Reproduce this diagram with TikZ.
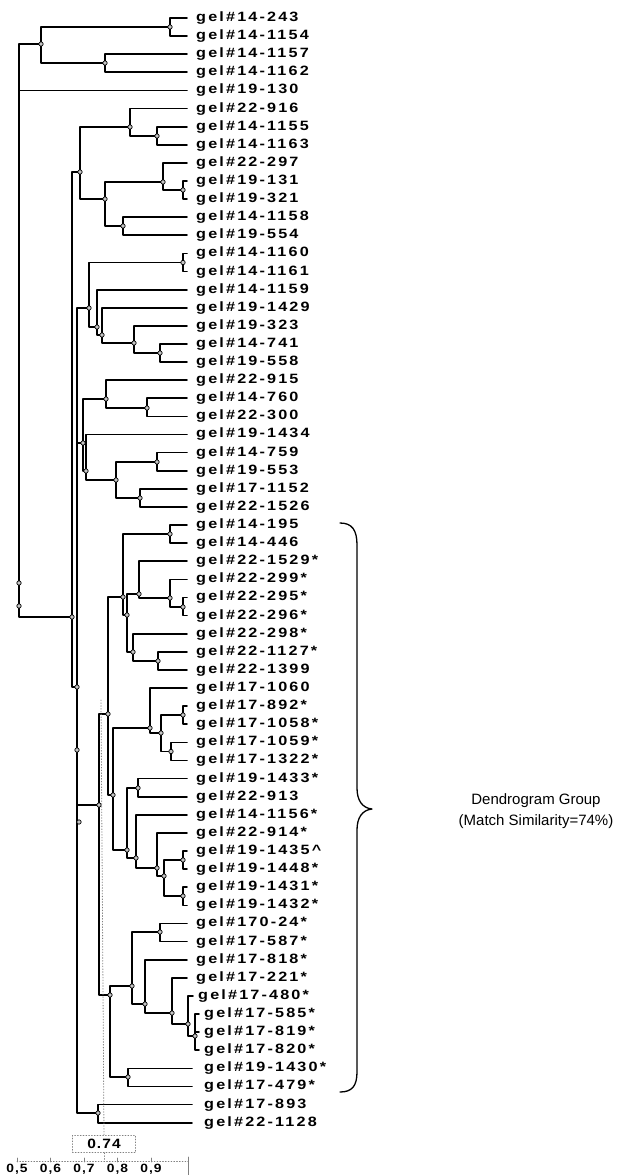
\documentclass[tikz,border=0pt]{standalone}
\usepackage{fontspec}
\setmainfont{Liberation Sans}
\newfontfamily\gelfont[LetterSpace=16,FakeStretch=1.2]{Liberation Sans}
\newfontfamily\scalefont[LetterSpace=8,FakeStretch=1.15]{Liberation Sans}
\begin{document}
\begin{tikzpicture}[x=1pt,y=-1pt,line join=round,line cap=round,
	br/.style={line width=1.7pt,black},
	dot/.style={fill=gray!45,draw=black,line width=0.7pt},
	lab/.style={anchor=west,inner sep=0pt,font=\gelfont\fontsize{13.5}{15}\bfseries\selectfont},
	cutline/.style={gray,dotted,line width=0.8pt}]
\useasboundingbox (0,0) rectangle (634,1175);

% leaves
\foreach \txt [count=\i] in {gel\#14-243,gel\#14-1154,gel\#14-1157,gel\#14-1162,gel\#19-130,gel\#22-916,gel\#14-1155,gel\#14-1163,gel\#22-297,gel\#19-131,gel\#19-321,gel\#14-1158,gel\#19-554,gel\#14-1160,gel\#14-1161,gel\#14-1159,gel\#19-1429,gel\#19-323,gel\#14-741,gel\#19-558,gel\#22-915,gel\#14-760,gel\#22-300,gel\#19-1434,gel\#14-759,gel\#19-553,gel\#17-1152,gel\#22-1526,gel\#14-195,gel\#14-446,gel\#22-1529*,gel\#22-299*,gel\#22-295*,gel\#22-296*,gel\#22-298*,gel\#22-1127*,gel\#22-1399,gel\#17-1060,gel\#17-892*,gel\#17-1058*,gel\#17-1059*,gel\#17-1322*,gel\#19-1433*,gel\#22-913,gel\#14-1156*,gel\#22-914*,gel\#19-1435\textasciicircum,gel\#19-1448*,gel\#19-1431*,gel\#19-1432*,gel\#170-24*,gel\#17-587*,gel\#17-818*,gel\#17-221*}{
	\coordinate (l\i) at (187,{18+18.11*(\i-1)});
	\node[lab] (t\i) at (196,{18+18.11*(\i-1)}) {\txt};
}
\coordinate (l55) at (193,{18+18.11*54});
\node[lab] (t55) at (198,{18+18.11*54}) {gel\#17-480*};
\foreach \txt [count=\i from 56] in {gel\#17-585*,gel\#17-819*,gel\#17-820*}{
	\coordinate (l\i) at (199,{18+18.11*(\i-1)});
	\node[lab] (t\i) at (204,{18+18.11*(\i-1)}) {\txt};
}
\foreach \txt [count=\i from 59] in {gel\#19-1430*,gel\#17-479*,gel\#17-893,gel\#22-1128}{
	\coordinate (l\i) at (192,{18+18.11*(\i-1)});
	\node[lab] (t\i) at (204,{18+18.11*(\i-1)}) {\txt};
}

% joins
\path (19,583)coordinate(r) (19,606)coordinate(rb) (41,44)coordinate(a0) (170,27)coordinate(a1) (105,63)coordinate(a2)
	(72,617)coordinate(s1) (77,687)coordinate(s2) (98,1113)coordinate(k)
	(80,172)coordinate(b7) (130,127)coordinate(b2) (157,136)coordinate(b1) (105,199)coordinate(b6) (163,182)coordinate(b4) (183,190)coordinate(b3) (123,226)coordinate(b5)
	(89,308)coordinate(c6) (183,262.5)coordinate(c1) (97,327)coordinate(c5) (102,335)coordinate(c4) (134,343)coordinate(c3) (160,353)coordinate(c2)
	(83,443)coordinate(d7) (106,399)coordinate(d2) (147,408)coordinate(d1) (86,471)coordinate(d6) (116,480)coordinate(d5) (157,462)coordinate(d3) (140,498)coordinate(d4)
	(99,805)coordinate(z) (108,714)coordinate(g9) (123,597)coordinate(e8) (170,534)coordinate(e1) (127,615)coordinate(e7) (139,594)coordinate(e4) (170,598)coordinate(e3) (183,607)coordinate(e2) (133,652)coordinate(e5) (158,661)coordinate(e6)
	(113,795)coordinate(g8) (150,728)coordinate(f4) (161,733)coordinate(f3) (183,715)coordinate(f1) (171,751.5)coordinate(f2)
	(127,850)coordinate(g7) (138,788)coordinate(g1) (136,858)coordinate(g6) (157,868)coordinate(g5) (164,876)coordinate(g4) (183,860)coordinate(g2) (183,896)coordinate(g3)
	(110,995)coordinate(h9) (132,986)coordinate(h7) (160,932)coordinate(h1) (145,1004)coordinate(h6) (172,1013)coordinate(h5) (188,1024)coordinate(h4) (195,1036)coordinate(h3) (128,1077)coordinate(h8);

\foreach \p/\c in {r/a0,r/rb,rb/l5,rb/s1,a0/a1,a0/a2,a1/l1,a1/l2,a2/l3,a2/l4,
	s1/b7,s1/s2,b7/b2,b7/b6,b2/l6,b2/b1,b1/l7,b1/l8,b6/b4,b6/b5,b4/l9,b4/b3,b3/l10,b3/l11,b5/l12,b5/l13,
	s2/c6,s2/d7,s2/z,s2/k,c6/c1,c6/c5,c1/l14,c1/l15,c5/l16,c5/c4,c4/l17,c4/c3,c3/l18,c3/c2,c2/l19,c2/l20,
	d7/d2,d7/d6,d2/l21,d2/d1,d1/l22,d1/l23,d6/l24,d6/d5,d5/d3,d5/d4,d3/l25,d3/l26,d4/l27,d4/l28,
	z/g9,z/h9,g9/e8,g9/g8,e8/e1,e8/e7,e1/l29,e1/l30,e7/e4,e7/e5,e4/l31,e4/e3,e3/l32,e3/e2,e2/l33,e2/l34,e5/l35,e5/e6,e6/l36,e6/l37,
	g8/f4,g8/g7,f4/l38,f4/f3,f3/f1,f3/f2,f1/l39,f1/l40,f2/l41,f2/l42,
	g7/g1,g7/g6,g1/l43,g1/l44,g6/l45,g6/g5,g5/l46,g5/g4,g4/g2,g4/g3,g2/l47,g2/l48,g3/l49,g3/l50,
	h9/h7,h9/h8,h7/h1,h7/h6,h1/l51,h1/l52,h6/l53,h6/h5,h5/l54,h5/h4,h4/l55,h4/h3,h3/l56,h3/l57,h3/l58,h8/l59,h8/l60,
	k/l61,k/l62}
	\draw[br] (\p) |- (\c);

\foreach \n in {r,rb,a0,a1,a2,s1,s2,k,b7,b2,b1,b6,b4,b3,b5,c6,c1,c5,c4,c3,c2,d7,d2,d1,d6,d5,d3,d4,
	z,g9,e8,e1,e7,e4,e3,e2,e5,e6,g8,f4,f3,f1,f2,g7,g1,g6,g5,g4,g2,g3,h9,h7,h1,h6,h5,h4,h3,h8}
	\fill[dot] (\n) circle (2.2pt);
\fill[dot] (77,750) circle (2.2pt);
\fill[dot] (79,822) circle (2.2pt);

% cut off and scale
\node[draw=gray,dotted,line width=0.8pt,minimum width=63pt,minimum height=17pt,inner sep=0pt,
	font=\scalefont\fontsize{13.5}{15}\bfseries\selectfont] (cut) at (104,1144) {0.74};
\coordinate (cuttop) at (101,700);
\coordinate (ax0) at (17,1161);
\coordinate (ax1) at (188,1161);
\coordinate (axc) at (104,1161);
\draw[cutline] (cuttop) -- (cut.north);
\draw[cutline] (cut.south) -- (axc);
\draw[gray,dotted,line width=0.8pt] (ax0) -- (ax1);
\draw[gray,line width=0.8pt] (188,1157) -- (188,1175);
\foreach \k in {5,...,9}{
	\draw[gray,line width=0.8pt] ({17+33.5*(\k-5)},1158) -- ({17+33.5*(\k-5)},1162);
	\node[font=\scalefont\fontsize{12}{13}\bfseries\selectfont,inner sep=0pt] (ax\k) at ({17+33.5*(\k-5)},1169) {0,\k};
}

% group brace
\draw[line width=1.3pt] (340,523) .. controls (352,523) and (357,530) .. (357,545) -- (357,788)
	.. controls (357,800) and (362,808) .. (372,809) .. controls (362,810) and (357,818) .. (357,830)
	-- (357,1072) .. controls (357,1086) and (352,1092) .. (340,1092);
\node[align=center,font=\fontsize{15}{21}\selectfont] (grp) at (536,811) {Dendrogram Group\\(Match Similarity=74\%)};
\end{tikzpicture}
\end{document}
